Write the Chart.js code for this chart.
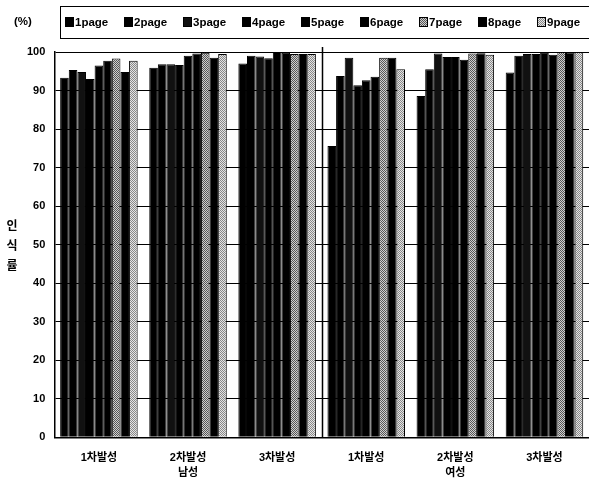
<!DOCTYPE html>
<html>
<head>
<meta charset="utf-8">
<script src="https://cdn.jsdelivr.net/npm/chart.js@4.4.1/dist/chart.umd.min.js"></script>
<style>
  html, body { margin: 0; padding: 0; background: #fff; }
  #wrap { width: 589px; height: 478px; position: relative; }
</style>
</head>
<body>
<div id="wrap"><canvas id="chart"></canvas></div>
<script>
// 카테고리 (성별 / 발성 차수)
const categories = [['1차발성'], ['2차발성', '남성'], ['3차발성'], ['1차발성'], ['2차발성', '여성'], ['3차발성']];
const seriesNames = ['1page', '2page', '3page', '4page', '5page', '6page', '7page', '8page', '9page'];
const yTicks = [0, 10, 20, 30, 40, 50, 60, 70, 80, 90, 100];

// 페이지별 인식률 (%)
const page1 = [93.3, 95.9, 97.0, 75.6, 88.6, 94.7];
const page2 = [95.3, 96.8, 99.0, 93.8, 95.5, 99.0];
const page3 = [94.8, 96.8, 98.8, 98.5, 99.6, 99.5];
const page4 = [93.0, 96.6, 98.4, 91.4, 98.7, 99.5];
const page5 = [96.5, 99.0, 100, 92.7, 98.7, 99.8];
const page6 = [97.7, 99.6, 99.8, 93.6, 98.0, 99.3];
const page7 = [98.3, 99.8, 99.5, 98.5, 99.6, 100];
const page8 = [94.8, 98.5, 99.5, 98.5, 99.7, 99.9];
const page9 = [97.7, 99.5, 99.5, 95.5, 99.3, 100];
const seriesValues = [page1, page2, page3, page4, page5, page6, page7, page8, page9];

const FONT = "'Liberation Sans', 'Noto Sans CJK KR', sans-serif";

// 스캔한 듯한 회색 점무늬 패턴
function makePattern(dark, light) {
    const tile = document.createElement('canvas');
    tile.width = 2; tile.height = 2;
    const g = tile.getContext('2d');
    g.fillStyle = light; g.fillRect(0, 0, 2, 2);
    g.fillStyle = dark; g.fillRect(0, 0, 1, 1); g.fillRect(1, 1, 1, 1);
    return g.createPattern(tile, 'repeat');
}

const fills = [
    '#000', '#000', '#111', '#000', '#000', '#000',
    makePattern('#555', '#cfcfcf'),
    '#000',
    makePattern('#888', '#e4e4e4')
];

const datasets = seriesNames.map((name, i) => ({
    label: name,
    data: seriesValues[i],
    backgroundColor: fills[i],
    borderColor: '#000',
    borderWidth: 1,
    categoryPercentage: 0.87,
    barPercentage: 1.0
}));

// 범례, (%) 표시, 세로 축 제목, 남/여 구분선
const decorPlugin = {
    id: 'decor',
    afterDraw(chart) {
        const { ctx, chartArea, scales } = chart;
        ctx.save();

        // 남성/여성 구분선
        const xs = scales.x;
        const mid = (xs.getPixelForValue(2) + xs.getPixelForValue(3)) / 2;
        ctx.strokeStyle = '#000';
        ctx.lineWidth = 1.5;
        ctx.beginPath();
        ctx.moveTo(Math.round(mid) + 0.5, chartArea.top - 5);
        ctx.lineTo(Math.round(mid) + 0.5, chartArea.bottom);
        ctx.stroke();

        // 범례 박스
        ctx.lineWidth = 1;
        ctx.strokeRect(60.5, 6.5, 540, 32);
        ctx.font = 'bold 11.5px ' + FONT;
        ctx.textBaseline = 'middle';
        ctx.fillStyle = '#000';
        ctx.textAlign = 'left';
        ctx.fillText('(%)', 14, 22);
        chart.data.datasets.forEach((ds, i) => {
            const x = 65 + i * 59;
            ctx.fillStyle = ds.backgroundColor;
            ctx.fillRect(x, 17, 9, 10);
            ctx.strokeStyle = '#000';
            ctx.strokeRect(x + 0.5, 17.5, 8, 9);
            ctx.fillStyle = '#000';
            ctx.fillText(ds.label, x + 10, 22.5);
        });

        // 세로 축 제목 (글자 세로 배치)
        ctx.font = 'bold 12px ' + FONT;
        ctx.textAlign = 'center';
        ['인', '식', '률'].forEach((ch, i) => ctx.fillText(ch, 12, 227 + i * 20));
        ctx.restore();
    }
};

new Chart(document.getElementById('chart'), {
    type: 'bar',
    data: { labels: categories, datasets },
    options: {
        responsive: true,
        maintainAspectRatio: false,
        animation: false,
        layout: { padding: { left: 18, right: 0, top: 52, bottom: -15 } },
        plugins: { legend: { display: false }, tooltip: { enabled: false } },
        scales: {
            x: {
                grid: { display: false, drawTicks: false },
                border: { display: true, color: '#000', width: 1.5 },
                ticks: { color: '#000', font: { family: FONT, size: 11, weight: 'bold', lineHeight: 1.35 }, padding: 13, maxRotation: 0 }
            },
            y: {
                min: 0,
                max: 100,
                afterBuildTicks(axis) { axis.ticks = yTicks.map(v => ({ value: v })); },
                grid: { color: '#000', lineWidth: 1, drawTicks: false },
                border: { display: true, color: '#000', width: 1.5 },
                ticks: { color: '#000', font: { family: FONT, size: 11, weight: 'bold' }, padding: 9 }
            }
        }
    },
    plugins: [decorPlugin]
});
</script>
</body>
</html>
